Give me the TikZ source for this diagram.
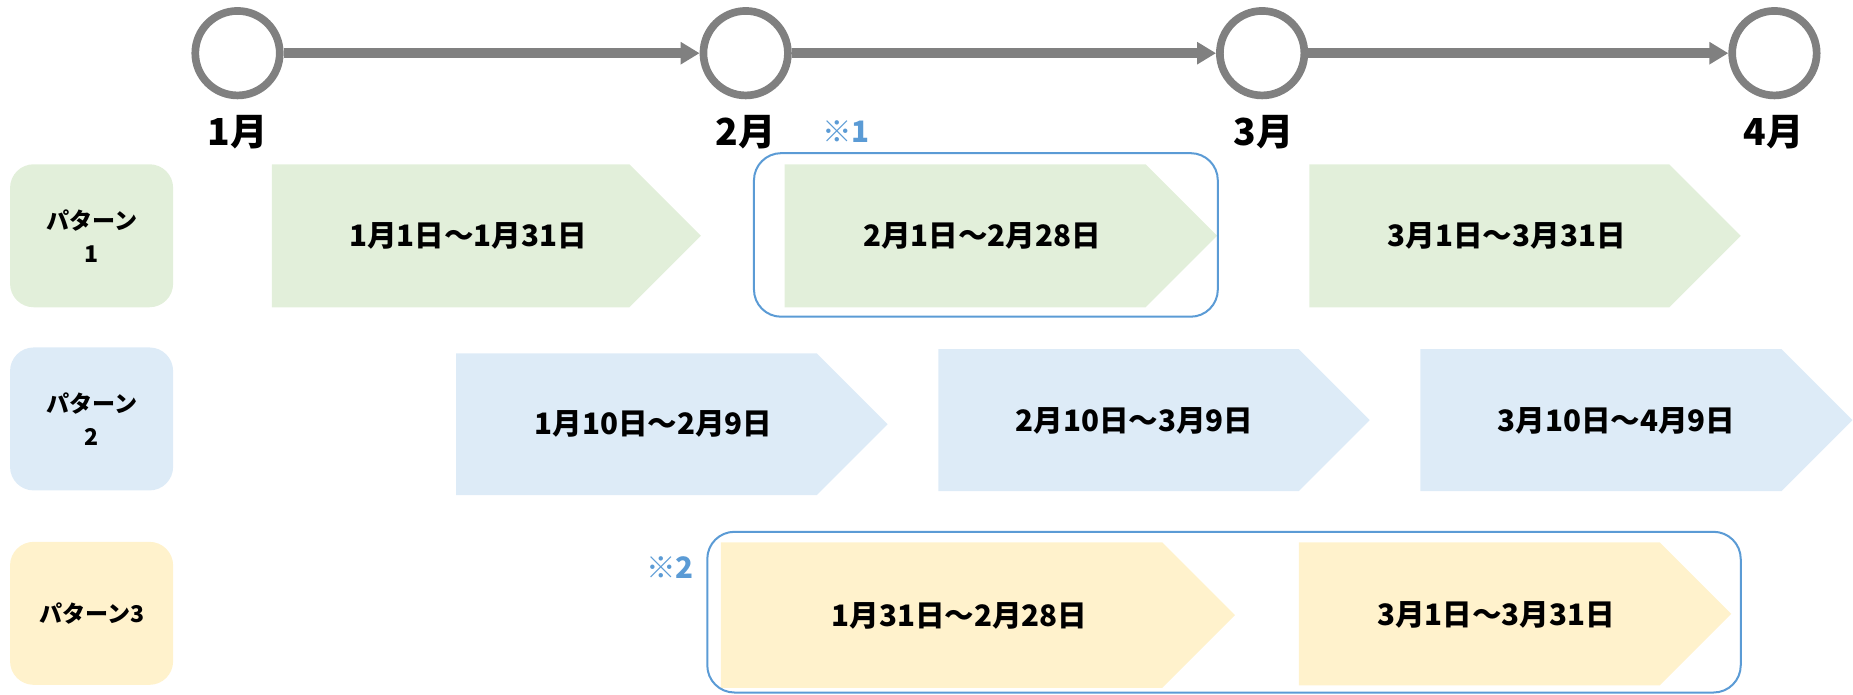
\documentclass[tikz,border=0pt]{standalone}
\usepackage{fontspec}
\setmainfont{Noto Sans CJK JP}
\usepackage{tikz}
\usetikzlibrary{positioning, arrows.meta}

\definecolor{tlgray}{HTML}{808080}
\definecolor{pgreen}{HTML}{E2EFDA}
\definecolor{pblue}{HTML}{DDEBF7}
\definecolor{pyellow}{HTML}{FFF2CC}
\definecolor{noteblue}{HTML}{5B9BD5}

% chevron: left, right, top, bottom, fill colour
\newcommand{\chevron}[5]{%
  \fill[#5] (#1,#3) -- ({#2-(#4-#3)/2},#3) -- (#2,{(#3+#4)/2}) -- ({#2-(#4-#3)/2},#4) -- (#1,#4) -- cycle;}

\begin{document}
\begin{tikzpicture}[x=1pt, y=-1pt,
  month/.style={circle, draw=tlgray, line width=6.5pt, minimum size=71.5pt, inner sep=0pt},
  monthlbl/.style={font=\bfseries\fontsize{31.5}{34}\selectfont},
  tlarrow/.style={draw=tlgray, line width=8pt, -{Triangle[length=16pt, width=18pt]}},
  rowbox/.style={rounded corners=20pt, minimum width=138pt, minimum height=121pt, inner sep=0pt, align=center,
    font=\bfseries\fontsize{19.5}{28}\selectfont},
  datelbl/.style={font=\bfseries\fontsize{25}{28}\selectfont},
  hilite/.style={draw=noteblue, line width=1.7pt, rounded corners=23pt},
  notelbl/.style={text=noteblue, font=\bfseries\fontsize{25}{27}\selectfont}]

\useasboundingbox (0,0) rectangle (1568,587.3);

% --- Timeline ---
\node[month] (m1) at (201,45) {};
\node[month] (m2) at (631,45) {};
\node[month] (m3) at (1068,45) {};
\node[month] (m4) at (1501.5,45) {};

\draw[tlarrow] (m1) -- (m2);
\draw[tlarrow] (m2) -- (m3);
\draw[tlarrow] (m3) -- (m4);

\node[monthlbl] (l1) at (201,112) {1月};
\node[monthlbl] (l2) at (631,112) {2月};
\node[monthlbl] (l3) at (1069,112) {3月};
\node[monthlbl] (l4) at (1501,112) {4月};

% --- Pattern labels ---
\node[rowbox, fill=pgreen] (p1) at (77.5,199.5) {パターン\\1};
\node[rowbox, fill=pblue] (p2) at (77.5,354.5) {パターン\\2};
\node[rowbox, fill=pyellow] (p3) at (77.5,519) {パターン3};

% --- Pattern 1 ---
\chevron{230}{593}{139}{260}{pgreen}
\chevron{664}{1030}{139}{260}{pgreen}
\chevron{1108}{1473}{139}{260}{pgreen}
\node[datelbl] (a1) at (396,200) {1月1日～1月31日};
\node[datelbl] (a2) at (831,200) {2月1日～2月28日};
\node[datelbl] (a3) at (1275,200) {3月1日～3月31日};

% --- Pattern 2 ---
\chevron{386}{751}{299}{419}{pblue}
\chevron{794}{1159}{295.5}{415.5}{pblue}
\chevron{1202}{1567.5}{295.5}{415.5}{pblue}
\node[datelbl] (b1) at (553,359) {1月10日～2月9日};
\node[datelbl] (b2) at (960,356) {2月10日～3月9日};
\node[datelbl] (b3) at (1368,356) {3月10日～4月9日};

% --- Pattern 3 ---
\chevron{610}{1045}{459}{582}{pyellow}
\chevron{1099}{1465}{459}{580}{pyellow}
\node[datelbl] (c1) at (812,521) {1月31日～2月28日};
\node[datelbl] (c2) at (1266,520) {3月1日～3月31日};

% --- Notes ---
\draw[hilite] (638,129.6) rectangle (1030.5,268);
\draw[hilite] (598.5,450) rectangle (1473,586);
\node[notelbl] (n1) at (716,111.5) {※1};
\node[notelbl] (n2) at (567,480) {※2};

\end{tikzpicture}
\end{document}
